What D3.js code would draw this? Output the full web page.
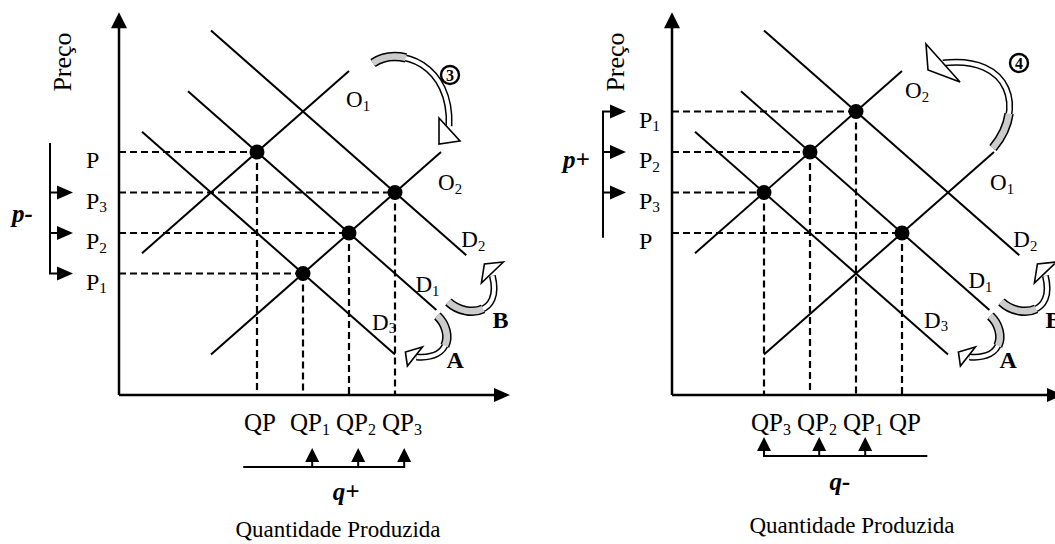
<!DOCTYPE html>
<html>
<head>
<meta charset="utf-8">
<script src="https://cdn.jsdelivr.net/npm/d3@7"></script>
<style>
body { margin: 0; background: #fff; }
svg { display: block; font-family: "Liberation Serif", "Times New Roman", serif; }
</style>
</head>
<body>
<svg width="1055" height="544"></svg>
<script>
// demand curves: p = k - q
const demandNames = ["D2", "D1", "D3"];
const demandK = [11, 9, 7];
const demandFrom = [2, 1.5, 0.5];
const demandTo = [7.55, 6.9, 6];

// supply curves: p = q + k
const supplyK = [3, -1];
const supplyFrom = [0.5, 2];
const supplyTo = [5, 7];
const supplyNamesLeft = ["O1", "O2"];
const supplyNamesRight = ["O2", "O1"];

// equilibrium points
const eqQLeft = [3, 4, 5, 6];
const eqPLeft = [6, 3, 4, 5];
const priceLabelsLeft = ["P", "P1", "P2", "P3"];
const qtyLabelsLeft = ["QP", "QP1", "QP2", "QP3"];

const eqQRight = [5, 2, 3, 4];
const eqPRight = [4, 5, 6, 7];
const priceLabelsRight = ["P", "P3", "P2", "P1"];
const qtyLabelsRight = ["QP", "QP3", "QP2", "QP1"];

// little bracket arrows beside the axes
const priceArrowsLeft = [5, 4, 3];
const priceArrowsRight = [7, 6, 5];
const qtyArrowsLeft = [4.2, 5.2, 6.2];
const qtyArrowsRight = [2, 3.2, 4.2];

var svg = d3.select("svg");

var x = d3.scaleLinear().domain([0, 8.5]).range([0, 391]);
var y = d3.scaleLinear().domain([0, 9.45]).range([395, 12.3]);

var line = d3.line().x(d => x(d[0])).y(d => y(d[1]));

function label(g, px, py, str, size, weight, style) {
    var m = str.match(/^(\D+)(\d*)$/);
    var t = g.append("text").attr("x", px).attr("y", py).attr("font-size", size);
    if (weight) t.attr("font-weight", weight);
    if (style) t.attr("font-style", style);
    t.append("tspan").text(m[1]);
    if (m[2]) t.append("tspan").attr("font-size", size * 0.64).attr("dy", size * 0.16).text(m[2]);
    return t;
}

function curvedArrow(g, ax, ay, shaft, grayFrac, head) {
    var a = g.append("g").attr("transform", `translate(${ax},${ay})`);
    var base = a.append("path").attr("d", shaft).attr("fill", "none")
        .attr("stroke", "#000").attr("stroke-width", 7);
    var len = base.node().getTotalLength();
    a.append("path").attr("d", shaft).attr("fill", "none")
        .attr("stroke", "#000").attr("stroke-width", 9.5)
        .attr("stroke-dasharray", `${len * grayFrac} ${len}`);
    a.append("path").attr("d", shaft).attr("fill", "none")
        .attr("stroke", "#fff").attr("stroke-width", 4);
    a.append("path").attr("d", shaft).attr("fill", "none")
        .attr("stroke", "#cccccc").attr("stroke-width", 6.5)
        .attr("stroke-dasharray", `${len * grayFrac} ${len}`);
    a.append("polygon").attr("points", head)
        .attr("fill", "#fff").attr("stroke", "#000").attr("stroke-width", 1.6);
}

function circled(g, cx, cy, n) {
    g.append("circle").attr("cx", cx).attr("cy", cy).attr("r", 9)
        .attr("fill", "#fff").attr("stroke", "#000").attr("stroke-width", 2.4);
    g.append("text").attr("x", cx).attr("y", cy + 5.5).attr("text-anchor", "middle")
        .attr("font-size", 16).attr("font-weight", "bold").text(n);
}

function panel(cfg) {
    var g = svg.append("g").attr("transform", `translate(${cfg.ox},0)`);

    // dashed guides
    cfg.eqQ.forEach((q, i) => {
        var p = cfg.eqP[i];
        g.append("path").attr("d", line([[0, p], [q, p]]))
            .attr("stroke", "#000").attr("stroke-width", 2.2).attr("stroke-dasharray", "7,4");
        g.append("path").attr("d", line([[q, p], [q, 0]]))
            .attr("stroke", "#000").attr("stroke-width", 2.2).attr("stroke-dasharray", "7,4");
    });

    // axes
    g.append("line").attr("x1", 0).attr("y1", y(0)).attr("x2", 0).attr("y2", y(9.45) + 14)
        .attr("stroke", "#000").attr("stroke-width", 2.5);
    g.append("path").attr("d", `M0,${y(9.45)} L-8,${y(9.45) + 16} L8,${y(9.45) + 16} Z`);
    g.append("line").attr("x1", 0).attr("y1", y(0)).attr("x2", x(8.5) - 14).attr("y2", y(0))
        .attr("stroke", "#000").attr("stroke-width", 2.5);
    g.append("path").attr("d", `M${x(8.5)},${y(0)} L${x(8.5) - 16},${y(0) - 7} L${x(8.5) - 16},${y(0) + 7} Z`);

    // demand and supply
    demandK.forEach((k, i) => {
        g.append("path").attr("d", line([[demandFrom[i], k - demandFrom[i]], [demandTo[i], k - demandTo[i]]]))
            .attr("stroke", "#000").attr("stroke-width", 2);
        var o = cfg.demandOff[i];
        label(g, x(demandTo[i]) + o[0], y(k - demandTo[i]) + o[1], demandNames[i], 23);
    });
    supplyK.forEach((k, i) => {
        g.append("path").attr("d", line([[supplyFrom[i], supplyFrom[i] + k], [supplyTo[i], supplyTo[i] + k]]))
            .attr("stroke", "#000").attr("stroke-width", 2);
        var o = cfg.supplyOff[i];
        label(g, x(supplyTo[i]) + o[0], y(supplyTo[i] + k) + o[1], cfg.supplyNames[i], 23);
    });

    // equilibrium dots
    cfg.eqQ.forEach((q, i) => {
        g.append("circle").attr("cx", x(q)).attr("cy", y(cfg.eqP[i])).attr("r", 7.5);
    });

    // tick labels
    cfg.eqP.forEach((p, i) => label(g, -33, y(p) + 16, cfg.priceLabels[i], 24));
    cfg.eqQ.forEach((q, i) => label(g, x(q) - 13, 431, cfg.qtyLabels[i], 25));

    g.append("text").attr("transform", "translate(-48,62) rotate(-90)")
        .attr("text-anchor", "middle").attr("font-size", 26).text("Preço");

    // price bracket
    g.append("path").attr("d", `M-69,${y(cfg.pBracket[1])} V${y(cfg.pBracket[0])}`)
        .attr("stroke", "#000").attr("stroke-width", 2).attr("fill", "none");
    cfg.pArrows.forEach(p => {
        g.append("path").attr("d", `M-70,${y(p)} H-62`).attr("stroke", "#000").attr("stroke-width", 2);
        g.append("path").attr("d", `M-46,${y(p)} L-62,${y(p) - 7} L-62,${y(p) + 7} Z`);
    });
    label(g, cfg.pText[0], cfg.pText[1], cfg.pSign, 25, "bold", "italic");

    // quantity bracket
    var qb = cfg.qBracketY;
    g.append("path").attr("d", `M${x(cfg.qBracket[0])},${qb} H${x(cfg.qBracket[1])}`)
        .attr("stroke", "#000").attr("stroke-width", 2);
    cfg.qArrows.forEach(q => {
        g.append("path").attr("d", `M${x(q)},${qb + 1} V${qb - 8}`).attr("stroke", "#000").attr("stroke-width", 2);
        g.append("path").attr("d", `M${x(q)},${qb - 19} L${x(q) - 7},${qb - 5} L${x(q) + 7},${qb - 5} Z`);
    });
    g.append("text").attr("x", cfg.qText[0]).attr("y", cfg.qText[1]).attr("text-anchor", "middle")
        .attr("font-size", 25).attr("font-weight", "bold").attr("font-style", "italic").text(cfg.qSign);
    g.append("text").attr("x", cfg.title[0]).attr("y", cfg.title[1]).attr("text-anchor", "middle")
        .attr("font-size", 23).text("Quantidade Produzida");

    // shift arrows
    var sx = x(supplyTo[0]), sy = y(supplyTo[0] + supplyK[0]);
    curvedArrow(g, sx, sy, cfg.shiftArrow.d, 0.28, cfg.shiftArrow.head);
    circled(g, sx + cfg.shiftArrow.num[0], sy + cfg.shiftArrow.num[1], cfg.shiftArrow.n);

    var dx = x(demandTo[1]), dy = y(demandK[1] - demandTo[1]);
    curvedArrow(g, dx, dy, "M1,6 C16,20 16,50 -20,47", 0.5, "-14,37 -29,56 -31,42");
    curvedArrow(g, dx, dy, "M12,-8 C29,8 66,6 56,-34", 0.5, "67,-48 45,-27 48,-46");
    label(g, dx + 10, dy + 58, "A", 24, "bold");
    label(g, dx + 56, dy + 18, "B", 24, "bold");
}

panel({
    ox: 119,
    eqQ: eqQLeft, eqP: eqPLeft,
    priceLabels: priceLabelsLeft, qtyLabels: qtyLabelsLeft,
    supplyNames: supplyNamesLeft,
    supplyOff: [[-3, 36], [-3, 38]],
    demandOff: [[-5, -8], [-21, -18], [-23, -25]],
    pBracket: [3, 6.22], pArrows: priceArrowsLeft, pSign: "p-", pText: [-107, 222],
    qBracket: [2.7, 6.2], qBracketY: 467, qArrows: qtyArrowsLeft,
    qSign: "q+", qText: [227, 500], title: [219, 537],
    shiftArrow: { d: "M24,-8 C51,-26 103,-6 100,55", head: "90,47 111,70 90,73", num: [101, 4], n: "3" }
});

panel({
    ox: 672,
    eqQ: eqQRight, eqP: eqPRight,
    priceLabels: priceLabelsRight, qtyLabels: qtyLabelsRight,
    supplyNames: supplyNamesRight,
    supplyOff: [[3, 27], [-4, 38]],
    demandOff: [[-6, -8], [-21, -22], [-24, -27]],
    pBracket: [3.88, 7], pArrows: priceArrowsRight, pSign: "p+", pText: [-109, 168],
    qBracket: [2, 5.55], qBracketY: 456, qArrows: qtyArrowsRight,
    qSign: "q-", qText: [168, 490], title: [180, 533],
    shiftArrow: { d: "M91,77 C123,39 110,-16 41,-8", head: "24,-27 58,11 26,-1", num: [117, -8], n: "4" }
});
</script>
</body>
</html>
